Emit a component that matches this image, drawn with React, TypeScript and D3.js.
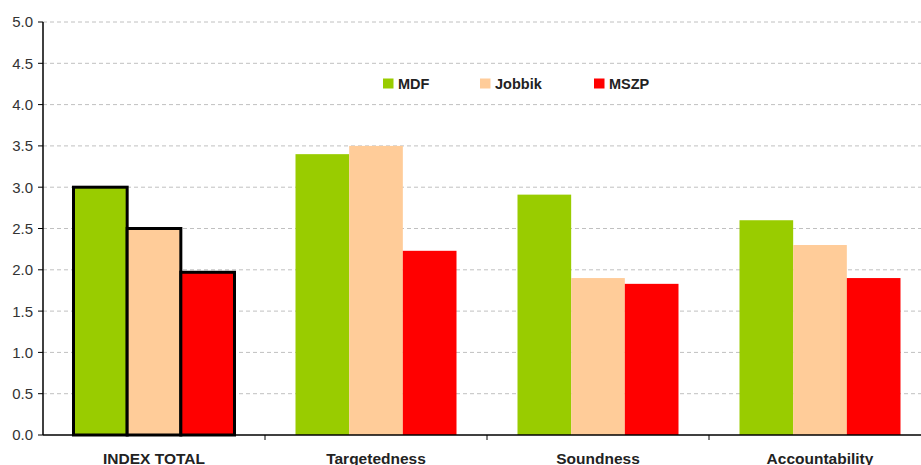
import React from "react";
import * as d3 from "d3";

const categories = ["INDEX TOTAL", "Targetedness", "Soundness", "Accountability"];
const seriesNames = ["MDF", "Jobbik", "MSZP"];
const mdf = [3.0, 3.4, 2.91, 2.6];
const jobbik = [2.5, 3.5, 1.9, 2.3];
const mszp = [1.97, 2.23, 1.83, 1.9];
const yTicks = [0, 0.5, 1, 1.5, 2, 2.5, 3, 3.5, 4, 4.5, 5];
const colors = ["#99CC00", "#FFCC99", "#FF0000"];

const W = 921;
const H = 465;
const left = 43;
const right = 931;
const top = 22;
const bottom = 435;

export default function App() {
  const series = [mdf, jobbik, mszp];
  const x = d3.scaleBand<string>().domain(categories).range([left, right]).padding(0);
  const groupW = 161;
  const offset = (x.bandwidth() - groupW) / 2;
  const bx = d3.scaleBand<string>().domain(seriesNames).range([offset, offset + groupW]).padding(0);
  const y = d3.scaleLinear().domain([0, 5]).range([bottom, top]);

  return (
    <div style={{ position: "absolute", left: 0, top: 0 }}>
      <svg width={W} height={H} style={{ display: "block", background: "#fff" }} fontFamily="Arial, 'Liberation Sans', sans-serif">
        {yTicks.map((t) => (
          <g key={t}>
            {t > 0 && (
              <line x1={left} x2={W} y1={y(t)} y2={y(t)} stroke="#c0c0c0" strokeWidth={1} strokeDasharray="4,3" />
            )}
            <line x1={left - 5} x2={left} y1={y(t)} y2={y(t)} stroke="#000" />
            <text x={33} y={y(t)} dy="0.36em" textAnchor="end" fontSize={15} fill="#333">
              {t.toFixed(1)}
            </text>
          </g>
        ))}
        {categories.map((c, i) =>
          series.map((s, j) => {
            const isTotal = i === 0;
            const x0 = (x(c) as number) + (bx(seriesNames[j]) as number);
            const w = bx.bandwidth();
            return (
              <rect
                key={c + j}
                x={x0}
                y={y(s[i])}
                width={w}
                height={bottom - y(s[i])}
                fill={colors[j]}
                stroke={isTotal ? "#000" : "none"}
                strokeWidth={isTotal ? 3 : 0}
              />
            );
          })
        )}
        <line x1={left} x2={left} y1={top} y2={bottom} stroke="#000" strokeWidth={1.5} />
        <line x1={left} x2={W} y1={bottom} y2={bottom} stroke="#000" strokeWidth={1.5} />
        {categories.map((c) => (
          <g key={c}>
            <line x1={(x(c) as number) + x.bandwidth()} x2={(x(c) as number) + x.bandwidth()} y1={bottom} y2={bottom + 5} stroke="#000" />
            <text x={(x(c) as number) + x.bandwidth() / 2} y={463.5} textAnchor="middle" fontSize={15.5} fontWeight="bold" fill="#222">
              {c}
            </text>
          </g>
        ))}
        {seriesNames.map((n, j) => {
          const lx = [383, 480, 594][j];
          return (
            <g key={n}>
              <rect x={lx} y={78.5} width={10.5} height={10} fill={colors[j]} />
              <text x={lx + 15} y={83.5} dy="0.36em" fontSize={14.5} fontWeight="bold" fill="#222">
                {n}
              </text>
            </g>
          );
        })}
      </svg>
    </div>
  );
}
